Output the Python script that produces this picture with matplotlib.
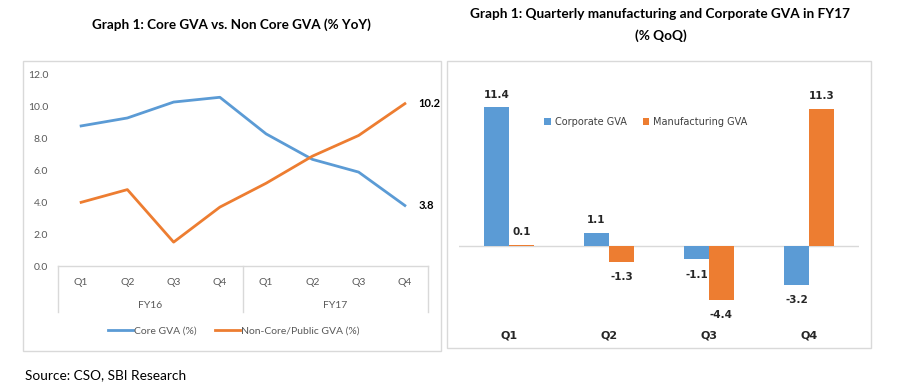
import numpy as np
import matplotlib
matplotlib.use("Agg")
import matplotlib.pyplot as plt
from matplotlib.patches import Rectangle
import matplotlib.transforms as mtransforms

# left chart data
quarters = ['Q1', 'Q2', 'Q3', 'Q4', 'Q1', 'Q2', 'Q3', 'Q4']
years = ['FY16', 'FY17']
core_gva = [8.8, 9.3, 10.3, 10.6, 8.3, 6.7, 5.9, 3.8]
noncore_gva = [4.0, 4.8, 1.5, 3.7, 5.2, 6.9, 8.2, 10.2]

# right chart data
qtrs_fy17 = ['Q1', 'Q2', 'Q3', 'Q4']
corporate_gva = [11.4, 1.1, -1.1, -3.2]
manufacturing_gva = [0.1, -1.3, -4.4, 11.3]

BLUE = '#5B9BD5'
ORANGE = '#ED7D31'
FRAME = '#D9D9D9'
W, H = 899, 387

fig = plt.figure(figsize=(W / 100, H / 100), dpi=100)
fig.patch.set_facecolor('white')

def fx(px):
    return px / W

def fy(py):
    return 1 - py / H

# chart frames
fig.patches.append(Rectangle((fx(23), fy(351)), fx(441 - 23), (351 - 61) / H,
                             transform=fig.transFigure, fill=False,
                             edgecolor=FRAME, lw=1.0))
fig.patches.append(Rectangle((fx(447), fy(348)), fx(871 - 447), (348 - 61) / H,
                             transform=fig.transFigure, fill=False,
                             edgecolor=FRAME, lw=1.0))

# titles
fig.text(fx(231), fy(25), 'Graph 1: Core GVA vs. Non Core GVA (% YoY)',
         ha='center', va='center', fontsize=9.7, fontweight='bold', family='Lato')
fig.text(fx(660), fy(14), 'Graph 1: Quarterly manufacturing and Corporate GVA in FY17',
         ha='center', va='center', fontsize=9.8, fontweight='bold', family='Lato')
fig.text(fx(661), fy(36), '(% QoQ)',
         ha='center', va='center', fontsize=9.8, fontweight='bold', family='Lato')
fig.text(fx(25), fy(375), 'Source: CSO, SBI Research',
         ha='left', va='center', fontsize=9.8, family='Lato')

# ---------- left: line chart ----------
ax1 = fig.add_axes([fx(58), fy(266), fx(428 - 58), (266 - 75) / H])
x = np.arange(len(quarters))
l1, = ax1.plot(x, core_gva, color=BLUE, lw=2.0, label='Core GVA (%)')
l2, = ax1.plot(x, noncore_gva, color=ORANGE, lw=2.0, label='Non-Core/Public GVA (%)')
ax1.set_xlim(-0.5, len(quarters) - 0.5)
ax1.set_ylim(0, 12)
ax1.set_yticks(np.arange(0, 12.1, 2))
ax1.set_yticklabels(['%.1f' % v for v in np.arange(0, 12.1, 2)],
                    fontsize=7.5, color='#595959', family='Lato')
ax1.tick_params(axis='y', length=0, pad=7)
ax1.set_xticks([])
for s in ax1.spines.values():
    s.set_visible(False)
ax1.axhline(0, color=FRAME, lw=1.0, clip_on=False)

trans = mtransforms.blended_transform_factory(ax1.transData, ax1.transAxes)
for i, q in enumerate(quarters):
    ax1.text(i, -0.085, q, transform=trans, ha='center', va='center',
             fontsize=7.5, color='#595959', family='Lato')
for j, yr in enumerate(years):
    ax1.text(j * 4 + 1.5, -0.205, yr, transform=trans, ha='center', va='center',
             fontsize=7.5, color='#595959', family='Lato')
for xv in [-0.5, 3.5, 7.5]:
    ax1.plot([xv, xv], [0, -0.24], transform=trans, color=FRAME, lw=1.0, clip_on=False)

ax1.annotate('%.1f' % noncore_gva[-1], (x[-1], noncore_gva[-1]), xytext=(10, 0),
             textcoords='offset points', ha='left', va='center',
             fontsize=8, fontweight='bold', family='Lato')
ax1.annotate('%.1f' % core_gva[-1], (x[-1], core_gva[-1]), xytext=(10, 0),
             textcoords='offset points', ha='left', va='center',
             fontsize=8, fontweight='bold', family='Lato')

fig.legend(handles=[l1, l2], loc='center', bbox_to_anchor=(fx(234), fy(331)),
           ncol=2, frameon=False, handlelength=2.4, handletextpad=0.1,
           columnspacing=1.8, prop={'family': 'Lato', 'size': 7.5},
           labelcolor='#595959')

# ---------- right: bar chart ----------
ax2 = fig.add_axes([fx(459), fy(319), fx(400), (319 - 88) / H])
xb = np.arange(len(qtrs_fy17))
bw = 0.25
b1 = ax2.bar(xb - bw / 2, corporate_gva, bw, color=BLUE, label='Corporate GVA')
b2 = ax2.bar(xb + bw / 2, manufacturing_gva, bw, color=ORANGE, label='Manufacturing GVA')
ax2.set_xlim(-0.5, 3.5)
ax2.set_ylim(-6, 13)
ax2.axhline(0, color=FRAME, lw=1.0, zorder=0)
ax2.set_xticks([])
ax2.set_yticks([])
for s in ax2.spines.values():
    s.set_visible(False)

for bars, vals in [(b1, corporate_gva), (b2, manufacturing_gva)]:
    for rect, v in zip(bars, vals):
        cx = rect.get_x() + rect.get_width() / 2
        off = 9 if v >= 0 else -11
        ax2.annotate('%.1f' % v, (cx, v), xytext=(0, off), textcoords='offset points',
                     ha='center', va='center', fontsize=7.5, fontweight='bold',
                     color='#262626')

trans2 = mtransforms.blended_transform_factory(ax2.transData, fig.transFigure)
for i, q in enumerate(qtrs_fy17):
    ax2.text(i, fy(335), q, transform=trans2, ha='center', va='center',
             fontsize=8, fontweight='bold', color='#262626')

ax2.legend(handles=[b1, b2], loc='center', bbox_to_anchor=(fx(646), fy(122)),
           bbox_transform=fig.transFigure, ncol=2, frameon=False,
           handlelength=0.7, handleheight=0.7, handletextpad=0.4,
           columnspacing=1.6, prop={'size': 7}, labelcolor='#404040')

fig.savefig('out.png', dpi=100)
